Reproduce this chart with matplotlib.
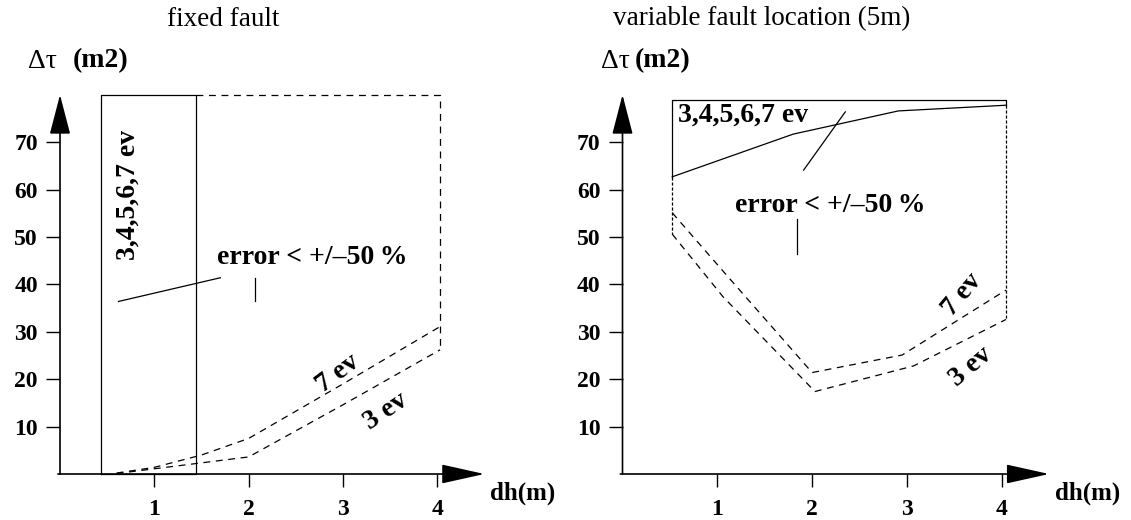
import matplotlib
matplotlib.use("Agg")
import matplotlib.pyplot as plt

plt.rcParams["font.family"] = ["Liberation Serif", "DejaVu Serif"]

# ---------------- data ----------------
ticks_x = [1, 2, 3, 4]
ticks_y = [10, 20, 30, 40, 50, 60, 70]

# fixed fault panel
left_box_x = [0.43, 0.43, 1.44, 1.44, 0.43]
left_box_y = [0, 80, 80, 0, 0]
left_dash_x = [1.44, 4.03, 4.03]
left_dash_y = [80, 80, 26.2]
left_7ev_x = [0.6, 1.0, 1.5, 2.0, 3.0, 4.03]
left_7ev_y = [0.2, 1.4, 4.0, 7.5, 19.0, 31.1]
left_3ev_x = [0.6, 1.44, 2.0, 3.0, 4.03]
left_3ev_y = [0.1, 2.2, 3.6, 14.6, 26.2]
left_ptr_x = [0.62, 1.70]
left_ptr_y = [36.4, 41.4]
left_tick_x = [2.07, 2.07]
left_tick_y = [41.3, 36.4]

# variable fault location panel
right_box_x = [0.525, 0.525, 4.045, 4.045]
right_box_y = [62.7, 79.0, 79.0, 77.8]
right_solid_x = [0.525, 1.8, 2.91, 4.045]
right_solid_y = [62.7, 71.7, 76.6, 77.8]
right_side_l_x = [0.525, 0.525]
right_side_l_y = [62.7, 50.6]
right_side_r_x = [4.045, 4.045]
right_side_r_y = [77.8, 32.6]
right_7ev_x = [0.525, 1.1, 2.0, 2.95, 4.045]
right_7ev_y = [55.1, 41.9, 21.4, 25.1, 38.8]
right_3ev_x = [0.525, 1.06, 2.03, 3.07, 4.045]
right_3ev_y = [50.6, 37.4, 17.4, 22.8, 32.6]
right_ptr_x = [1.91, 2.35]
right_ptr_y = [64.1, 76.4]
right_tick_x = [1.84, 1.84]
right_tick_y = [53.7, 46.5]

W, H = 1131, 520
fig = plt.figure(figsize=(W / 100, H / 100), dpi=100)

ax_l = fig.add_axes([60 / W, 46 / H, 424.4 / W, 379.2 / H])
ax_r = fig.add_axes([622.5 / W, 46 / H, 426.6 / W, 379.2 / H])

DASH = (0, (5.5, 4.5))
FINE = (0, (2.5, 1.5))

for ax in (ax_l, ax_r):
    ax.set_xlim(0, 4.5)
    ax.set_ylim(0, 80)
    for s in ax.spines.values():
        s.set_visible(False)
    ax.set_xticks(ticks_x)
    ax.set_yticks(ticks_y)
    ax.tick_params(axis="both", direction="out", width=1.0, labelsize=17)
    ax.tick_params(axis="y", length=10, pad=6)
    ax.tick_params(axis="x", length=9, pad=9)
    for lab in ax.get_xticklabels() + ax.get_yticklabels():
        lab.set_fontweight("bold")
    # axes with arrow heads
    ax.annotate("", xy=(1.0, 0), xytext=(-0.005, 0), xycoords="axes fraction",
                arrowprops=dict(arrowstyle="-|>,head_length=2.7,head_width=0.6",
                                lw=1.2, color="black", shrinkA=0, shrinkB=0),
                annotation_clip=False)
    ax.annotate("", xy=(0, 1.0), xytext=(0, 0), xycoords="axes fraction",
                arrowprops=dict(arrowstyle="-|>,head_length=2.5,head_width=0.65",
                                lw=1.2, color="black", shrinkA=0, shrinkB=0),
                annotation_clip=False)

lw = 0.9
bold = dict(fontsize=20, fontweight="bold")
err_text = "error < +/\u201350\u2009%"

# ---- left panel ----
ax_l.plot(left_box_x, left_box_y, color="black", lw=lw, clip_on=False)
ax_l.plot(left_dash_x, left_dash_y, color="black", lw=lw, ls=DASH, clip_on=False)
ax_l.plot(left_7ev_x, left_7ev_y, color="black", lw=lw, ls=DASH)
ax_l.plot(left_3ev_x, left_3ev_y, color="black", lw=lw, ls=DASH)
ax_l.plot(left_ptr_x, left_ptr_y, color="black", lw=lw)
ax_l.plot(left_tick_x, left_tick_y, color="black", lw=lw)
ax_l.text(0.72, 58.9, "3,4,5,6,7 ev", rotation=90, ha="center", va="center", **bold)
ax_l.text(2.67, 45.6, err_text, ha="center", va="center", **bold)
ax_l.text(2.95, 21.2, "7 ev", rotation=37, ha="center", va="center", **bold)
ax_l.text(3.46, 13.1, "3 ev", rotation=34, ha="center", va="center", **bold)

# ---- right panel ----
ax_r.plot(right_box_x, right_box_y, color="black", lw=lw, clip_on=False)
ax_r.plot(right_solid_x, right_solid_y, color="black", lw=lw)
ax_r.plot(right_side_l_x, right_side_l_y, color="black", lw=lw, ls=FINE)
ax_r.plot(right_side_r_x, right_side_r_y, color="black", lw=lw, ls=FINE)
ax_r.plot(right_7ev_x, right_7ev_y, color="black", lw=lw, ls=DASH)
ax_r.plot(right_3ev_x, right_3ev_y, color="black", lw=lw, ls=DASH)
ax_r.plot(right_ptr_x, right_ptr_y, color="black", lw=lw)
ax_r.plot(right_tick_x, right_tick_y, color="black", lw=lw)
ax_r.text(0.59, 75.7, "3,4,5,6,7 ev", ha="left", va="center", **bold)
ax_r.text(2.19, 56.7, err_text, ha="center", va="center", **bold)
ax_r.text(3.58, 37.8, "7 ev", rotation=50, ha="center", va="center", **bold)
ax_r.text(3.68, 22.6, "3 ev", rotation=40, ha="center", va="center", **bold)

# ---- titles and axis labels ----
fig.text(223 / W, 1 - 19 / H, "fixed fault", ha="center", va="center", fontsize=19.5)
fig.text(762 / W, 1 - 19 / H, "variable fault location (5m)", ha="center", va="center", fontsize=19.5)

fig.text(28 / W, 1 - 61 / H, "\u0394\u03c4", ha="left", va="center", fontsize=20)
fig.text(73 / W, 1 - 61 / H, "(m2)", ha="left", va="center", **bold)
fig.text(601 / W, 1 - 61 / H, "\u0394\u03c4", ha="left", va="center", fontsize=20)
fig.text(635 / W, 1 - 61 / H, "(m2)", ha="left", va="center", **bold)

fig.text(490 / W, 1 - 493 / H, "dh(m)", ha="left", va="center", fontsize=18, fontweight="bold")
fig.text(1055 / W, 1 - 493 / H, "dh(m)", ha="left", va="center", fontsize=18, fontweight="bold")

fig.savefig("out.png", dpi=100)
